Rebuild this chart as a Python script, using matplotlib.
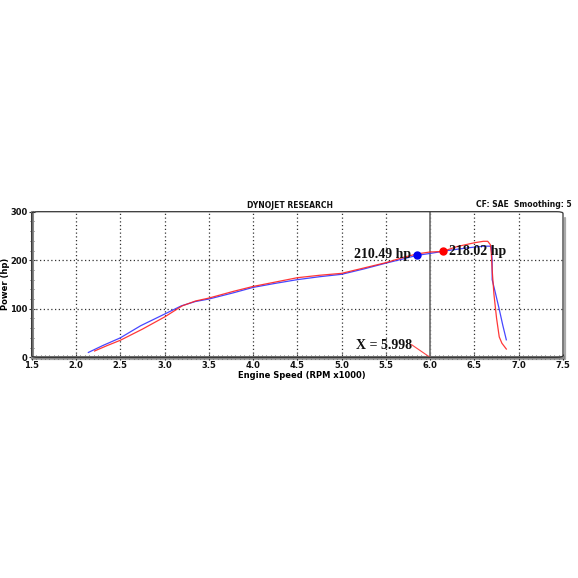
import matplotlib
matplotlib.use("Agg")
import matplotlib.pyplot as plt
from matplotlib.patches import FancyBboxPatch
from matplotlib import font_manager
import numpy as np

# ---- data ----
blue_rpm = [2.14, 2.30, 2.50, 2.73, 3.00, 3.19, 3.35, 3.50, 3.78, 4.00, 4.24, 4.50,
            4.75, 5.00, 5.25, 5.50, 5.70, 5.85, 6.00, 6.20, 6.40, 6.55, 6.62, 6.67,
            6.69, 6.70, 6.70, 6.74, 6.78, 6.82, 6.86]
blue_hp = [10, 24, 40, 65, 89, 106, 115, 120, 133, 144, 152, 160,
           166, 171, 182, 194, 203, 210, 214, 220, 225, 228, 229, 229,
           228, 200, 160, 130, 99, 66, 36]
red_rpm = [2.21, 2.35, 2.50, 2.75, 3.00, 3.20, 3.35, 3.50, 3.78, 4.00, 4.25, 4.50,
           4.75, 5.00, 5.25, 5.50, 5.70, 5.85, 6.00, 6.14, 6.30, 6.50, 6.60, 6.65,
           6.68, 6.69, 6.70, 6.72, 6.75, 6.78, 6.81, 6.86]
red_hp = [13, 24, 35, 58, 83, 106, 116, 122, 136, 146, 155, 164,
          169, 173, 184, 195, 206, 213, 217, 218, 228, 236, 239, 239,
          232, 215, 180, 130, 80, 42, 29, 17]
blue_peak = (5.85, 210.49)
red_peak = (6.14, 218.02)
cursor_x = 5.998
x_ticks = [1.5, 2.0, 2.5, 3.0, 3.5, 4.0, 4.5, 5.0, 5.5, 6.0, 6.5, 7.0, 7.5]
y_ticks = [0, 100, 200, 300]

avail = {f.name for f in font_manager.fontManager.ttflist}
serif = 'Liberation Serif' if 'Liberation Serif' in avail else 'DejaVu Serif'
sans = 'DejaVu Sans'

W = 578
fig = plt.figure(figsize=(5.78, 5.78), dpi=100)
ax = fig.add_axes([31.7 / W, 1 - 357.3 / W, (563 - 31.7) / W, (357.3 - 211.7) / W])
ax.set_xlim(1.5, 7.5)
ax.set_ylim(0, 300)

# grid
for xv in x_ticks[1:-1]:
    ax.axvline(xv, color='#333333', lw=0.9, ls=(0, (1.0, 2.0)), zorder=1)
for yv in y_ticks[1:-1]:
    ax.axhline(yv, color='#333333', lw=0.9, ls=(0, (1.0, 2.0)), zorder=1)

# cursor
ax.axvline(cursor_x, color='#777777', lw=1.3, zorder=2)

# curves
ax.plot(blue_rpm, blue_hp, color='#3333ff', lw=0.9, alpha=0.9, zorder=3)
ax.plot(red_rpm, red_hp, color='#ff2222', lw=0.9, alpha=0.9, zorder=4)

# markers
ax.plot(*blue_peak, 'o', color='#0000ee', ms=5, zorder=5)
ax.plot(*red_peak, 'o', color='#ff0000', ms=5, zorder=5)
ax.text(blue_peak[0] - 0.07, blue_peak[1] + 1, f"{blue_peak[1]:.2f} hp", ha='right', va='center',
        family=serif, fontweight='bold', fontsize=10, color='#111111', zorder=6)
ax.text(red_peak[0] + 0.07, red_peak[1] - 1, f"{red_peak[1]:.2f} hp", ha='left', va='center',
        family=serif, fontweight='bold', fontsize=10, color='#111111', zorder=6)

# cursor label
ax.text(5.16, 24, f"X = {cursor_x:.3f}", ha='left', va='center',
        family=serif, fontweight='bold', fontsize=10, color='#111111', zorder=6)
ax.plot([5.79, cursor_x], [26, 0], color='#ff4444', lw=0.8, zorder=6)

# ticks
ax.set_xticks(x_ticks)
ax.set_xticklabels([f"{v:.1f}" for v in x_ticks])
ax.set_yticks(y_ticks)
ax.set_xticks(np.arange(1.5, 7.51, 0.05), minor=True)
ax.set_yticks(np.arange(0, 301, 20), minor=True)
ax.tick_params(axis='both', which='major', labelsize=6, direction='inout', length=4,
               width=0.8, color='#333333', pad=1)
ax.tick_params(axis='both', which='minor', direction='inout', length=3, width=0.6, color='#444444')
for lab in ax.get_xticklabels() + ax.get_yticklabels():
    lab.set_fontweight('bold')
    lab.set_color('#111111')

# frame
for s in ['top', 'right']:
    ax.spines[s].set_visible(False)
for s in ['left', 'bottom']:
    ax.spines[s].set_color('#888888')
    ax.spines[s].set_linewidth(2.2)
# shadow on right and bottom
ax.plot([1.004, 1.004], [0.96, -0.012], transform=ax.transAxes, color='#aaaaaa', lw=1.6,
        clip_on=False, zorder=0, solid_capstyle='round')
ax.plot([0.0, 1.004], [-0.012, -0.012], transform=ax.transAxes, color='#aaaaaa', lw=1.6,
        clip_on=False, zorder=0, solid_capstyle='round')
frame = FancyBboxPatch((0, 0), 1.0, 1.0, boxstyle="round,pad=0,rounding_size=0.012",
                       transform=ax.transAxes, facecolor='none', edgecolor='#333333', lw=0.9,
                       clip_on=False, zorder=7)
ax.add_patch(frame)

ax.set_xlabel("Engine Speed (RPM x1000)", fontsize=6, fontweight='bold', family=sans, labelpad=0)
ax.xaxis.set_label_coords((302 - 31.7) / (563 - 31.7), -0.095)
fig.text(6 / W, 1 - 284 / W, "Power (hp)", rotation=90, ha='center', va='center',
         fontsize=6, fontweight='bold', family=sans)

fig.text(290 / W, 1 - 205 / W, "DYNOJET RESEARCH", ha='center', va='center',
         fontsize=5.5, fontweight='bold', family=sans, color='#111111')
fig.text(572 / W, 1 - 204 / W, "CF: SAE  Smoothing: 5", ha='right', va='center',
         fontsize=5.5, fontweight='bold', family=sans, color='#111111')

fig.savefig("out.png", dpi=100)
